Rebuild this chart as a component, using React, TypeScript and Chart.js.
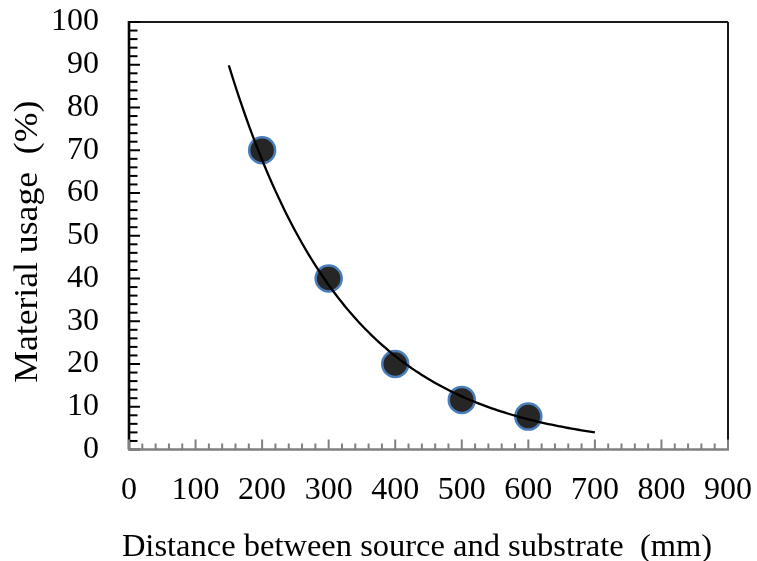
import React, { useEffect, useRef } from "react";
import { Chart, registerables } from "chart.js";

Chart.register(...registerables);

// Data
const distances: number[] = [200, 300, 400, 500, 600];
const usage: number[] = [70, 40, 20, 11.6, 7.7];
const trendRange: number[] = [150, 700]; // span of the exponential trendline
const xTicks: number[] = [0, 100, 200, 300, 400, 500, 600, 700, 800, 900];
const yTicks: number[] = [0, 10, 20, 30, 40, 50, 60, 70, 80, 90, 100];

const xTitle = "Distance between source and substrate  (mm)";
const yTitle = "Material usage  (%)";

const FONT = "'Liberation Serif', 'Times New Roman', serif";

// Exponential least-squares trendline (as Excel computes it) from the data
function expTrend(xs: number[], ys: number[], from: number, to: number, step: number) {
  const n = xs.length;
  const ly = ys.map((v) => Math.log(v));
  const mx = xs.reduce((a, b) => a + b, 0) / n;
  const my = ly.reduce((a, b) => a + b, 0) / n;
  let sxy = 0;
  let sxx = 0;
  for (let i = 0; i < n; i++) {
    sxy += (xs[i] - mx) * (ly[i] - my);
    sxx += (xs[i] - mx) * (xs[i] - mx);
  }
  const b = sxy / sxx;
  const lnA = my - b * mx;
  const pts: { x: number; y: number }[] = [];
  for (let x = from; x <= to + 1e-9; x += step) {
    pts.push({ x, y: Math.exp(lnA + b * x) });
  }
  return pts;
}

const axesPlugin = {
  id: "excelAxes",
  beforeDatasetsDraw(chart: any) {
    const { ctx, chartArea, scales } = chart;
    const xs = scales.x;
    const ys = scales.y;
    const { left, right, top, bottom } = chartArea;
    ctx.save();
    // top & right border
    ctx.strokeStyle = "#1a1a1a";
    ctx.lineWidth = 2;
    ctx.beginPath();
    ctx.moveTo(left, top);
    ctx.lineTo(right, top);
    ctx.moveTo(right, top);
    ctx.lineTo(right, bottom);
    ctx.stroke();
    // y axis ticks (inside)
    ctx.strokeStyle = "#000";
    ctx.lineWidth = 2;
    const yMin = yTicks[0];
    const yMax = yTicks[yTicks.length - 1];
    for (let v = yMin; v <= yMax; v += 2) {
      const py = ys.getPixelForValue(v);
      const len = v % 10 === 0 ? 11 : 8.5;
      ctx.beginPath();
      ctx.moveTo(left, py);
      ctx.lineTo(left + len, py);
      ctx.stroke();
    }
    // y axis line
    ctx.lineWidth = 2.6;
    ctx.beginPath();
    ctx.moveTo(left, top - 1);
    ctx.lineTo(left, bottom);
    ctx.stroke();
    // x axis ticks (inside)
    ctx.strokeStyle = "#808080";
    ctx.lineWidth = 2;
    const xMin = xTicks[0];
    const xMax = xTicks[xTicks.length - 1];
    for (let v = xMin; v <= xMax; v += 20) {
      const px = xs.getPixelForValue(v);
      const len = v % 100 === 0 ? 10 : 6;
      ctx.beginPath();
      ctx.moveTo(px, bottom);
      ctx.lineTo(px, bottom - len);
      ctx.stroke();
    }
    // x axis line
    ctx.lineWidth = 2.6;
    ctx.beginPath();
    ctx.moveTo(left - 1, bottom);
    ctx.lineTo(right + 1, bottom);
    ctx.stroke();
    ctx.restore();
  },
  afterDraw(chart: any) {
    const { ctx, chartArea } = chart;
    ctx.save();
    ctx.fillStyle = "#000";
    ctx.textAlign = "center";
    ctx.textBaseline = "alphabetic";
    ctx.font = `32.5px ${FONT}`;
    ctx.fillText(xTitle, 417, 556);
    ctx.font = `33px ${FONT}`;
    ctx.translate(37, (chartArea.top + chartArea.bottom) / 2 + 6);
    ctx.rotate(-Math.PI / 2);
    ctx.scale(1.08, 1);
    ctx.fillText(yTitle, 0, 0);
    ctx.restore();
  },
};

const zeroPad = (s: any) => {
  s.paddingTop = 0;
  s.paddingBottom = 0;
  s.paddingLeft = 0;
  s.paddingRight = 0;
};

export default function App() {
  const ref = useRef<HTMLCanvasElement | null>(null);

  useEffect(() => {
    if (!ref.current) return;
    const trend = expTrend(distances, usage, trendRange[0], trendRange[1], 5);
    const chart = new Chart(ref.current, {
      type: "scatter",
      data: {
        datasets: [
          {
            label: "Trend",
            data: trend,
            showLine: true,
            borderColor: "#000",
            borderWidth: 2.3,
            pointRadius: 0,
            fill: false,
            tension: 0,
            order: 0,
          },
          {
            label: "Material usage",
            data: distances.map((x, i) => ({ x, y: usage[i] })),
            backgroundColor: "#262626",
            borderColor: "#4a7ebb",
            borderWidth: 2.5,
            pointRadius: 13,
            pointHoverRadius: 13,
            order: 1,
          },
        ],
      },
      options: {
        responsive: false,
        animation: false,
        events: [],
        layout: { padding: { top: 22, right: 29, left: 0, bottom: 0 } },
        plugins: {
          legend: { display: false },
          tooltip: { enabled: false },
        },
        scales: {
          x: {
            type: "linear",
            min: xTicks[0],
            max: xTicks[xTicks.length - 1],
            grid: { display: false, drawTicks: false },
            border: { display: false },
            afterFit: (s: any) => {
              s.height = 111.5;
              zeroPad(s);
            },
            afterBuildTicks: (s: any) => {
              s.ticks = xTicks.map((v) => ({ value: v }));
            },
            ticks: {
              padding: 22,
              color: "#000",
              font: { family: FONT, size: 32 },
              maxRotation: 0,
              autoSkip: false,
            },
          },
          y: {
            type: "linear",
            min: yTicks[0],
            max: yTicks[yTicks.length - 1],
            grid: { display: false, drawTicks: false },
            border: { display: false },
            afterFit: (s: any) => {
              s.width = 129;
              zeroPad(s);
            },
            afterBuildTicks: (s: any) => {
              s.ticks = yTicks.map((v) => ({ value: v }));
            },
            ticks: {
              padding: 30,
              color: "#000",
              font: { family: FONT, size: 32 },
              autoSkip: false,
            },
          },
        },
      },
      plugins: [axesPlugin],
    });
    return () => chart.destroy();
  }, []);

  return (
    <div style={{ position: "absolute", left: 0, top: 0, width: 757, height: 561, background: "#fff" }}>
      <canvas ref={ref} width={757} height={561} style={{ display: "block" }} />
    </div>
  );
}
